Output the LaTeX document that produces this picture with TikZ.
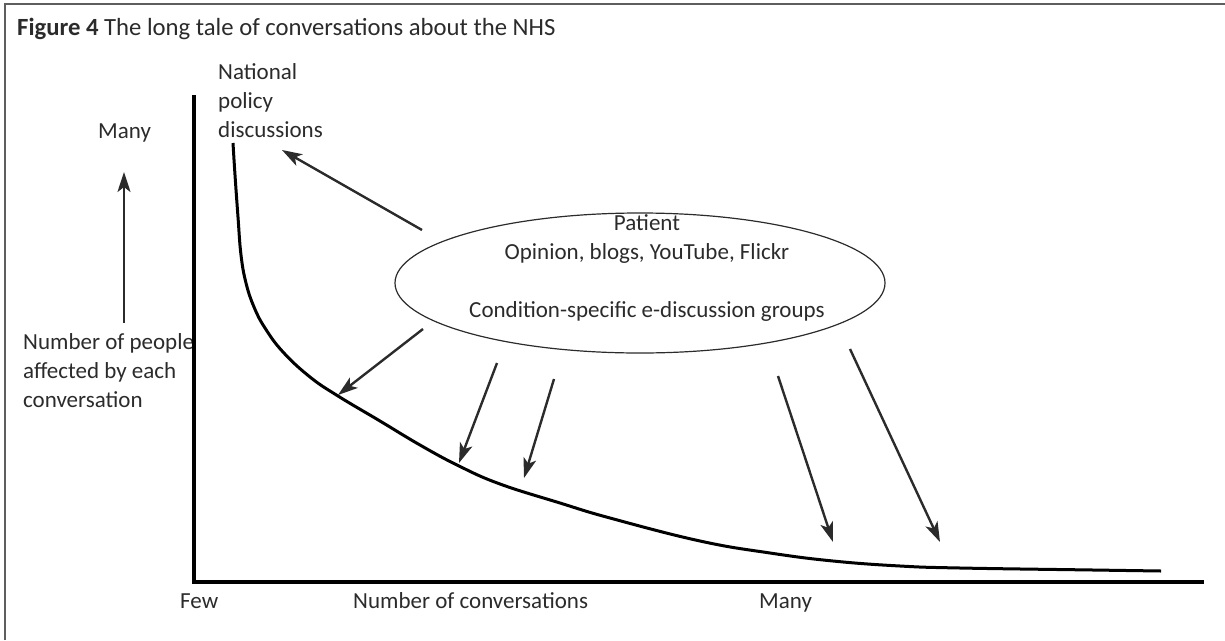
\documentclass[tikz,border=0pt]{standalone}
\usepackage{fontspec}
\setmainfont{Carlito}
\usetikzlibrary{arrows.meta,shapes.geometric}
\definecolor{ink}{HTML}{2B2B2B}
\definecolor{rule}{HTML}{5E5E5E}

\begin{document}
\begin{tikzpicture}[
  x=1pt,y=-1pt,
  every node/.style={font=\fontsize{23}{29}\selectfont,text=ink,inner sep=0pt},
  label/.style={anchor=base west,align=left},
  bubble/.style={draw=ink,line width=1.2pt,ellipse,minimum width=490pt,minimum height=140pt},
  axis/.style={line width=4pt,draw=black},
  tail/.style={line width=3pt,draw=black},
  arrow/.style={-{Stealth[length=20pt,width=13pt,inset=5pt]},line width=2.4pt,draw=ink}
]
\useasboundingbox (0,0) rectangle (1225,640);
\draw[rule,line width=1.5pt] (5,640) -- (5,4) -- (1225,4);

\node[label,font=\fontsize{24.7}{30}\selectfont] (title) at (17,35)
  {\textbf{Figure 4} The long tale of conversations about the NHS};
\node[label] (many) at (98,138) {Many};
\node[label] (people) at (23,407) {Number of people\\affected by each\\conversation};
\node[label] (policy) at (218,137) {National\\policy\\discussions};
\node[label] (few) at (180,608) {Few};
\node[label] (nconv) at (353,608) {Number of conversations};
\node[label] (manyx) at (759,608) {Many};

\coordinate (ytop) at (194,95);
\coordinate (origin) at (194,582);
\coordinate (xend) at (1204,582);
\draw[axis] (ytop) -- (origin) -- (xend);

\draw[tail] plot[smooth,tension=0.7] coordinates {
  (233,143) (235,175) (238,217) (241,255) (246,283) (254,307) (265,328)
  (283,352) (310,377) (338,396) (380,421) (420,445) (459,466) (500,484)
  (560,503) (610,518) (700,541) (770,553) (833,561) (900,566)
  (960,568) (1093,570) (1161,571)};

\node[bubble] (forum) at (640,283) {};
\node[anchor=base,align=center] (forumtext) at (647,317)
  {Patient\\Opinion, blogs, YouTube, Flickr\\[29pt]Condition-specific e-discussion groups};

\coordinate (up0) at (124,323);
\coordinate (up1) at (124,172);
\draw[arrow] (up0) -- (up1);

\coordinate (s1) at (422,230); \coordinate (t1) at (282,150);
\coordinate (s2) at (423,329); \coordinate (t2) at (338,395);
\coordinate (s3) at (497,363); \coordinate (t3) at (459,463);
\coordinate (s4) at (554,379); \coordinate (t4) at (524,478);
\coordinate (s5) at (778,376); \coordinate (t5) at (833,542);
\coordinate (s6) at (850,349); \coordinate (t6) at (940,542);
\foreach \i in {1,...,6}
  \draw[arrow] (s\i) -- (t\i);
\end{tikzpicture}
\end{document}
